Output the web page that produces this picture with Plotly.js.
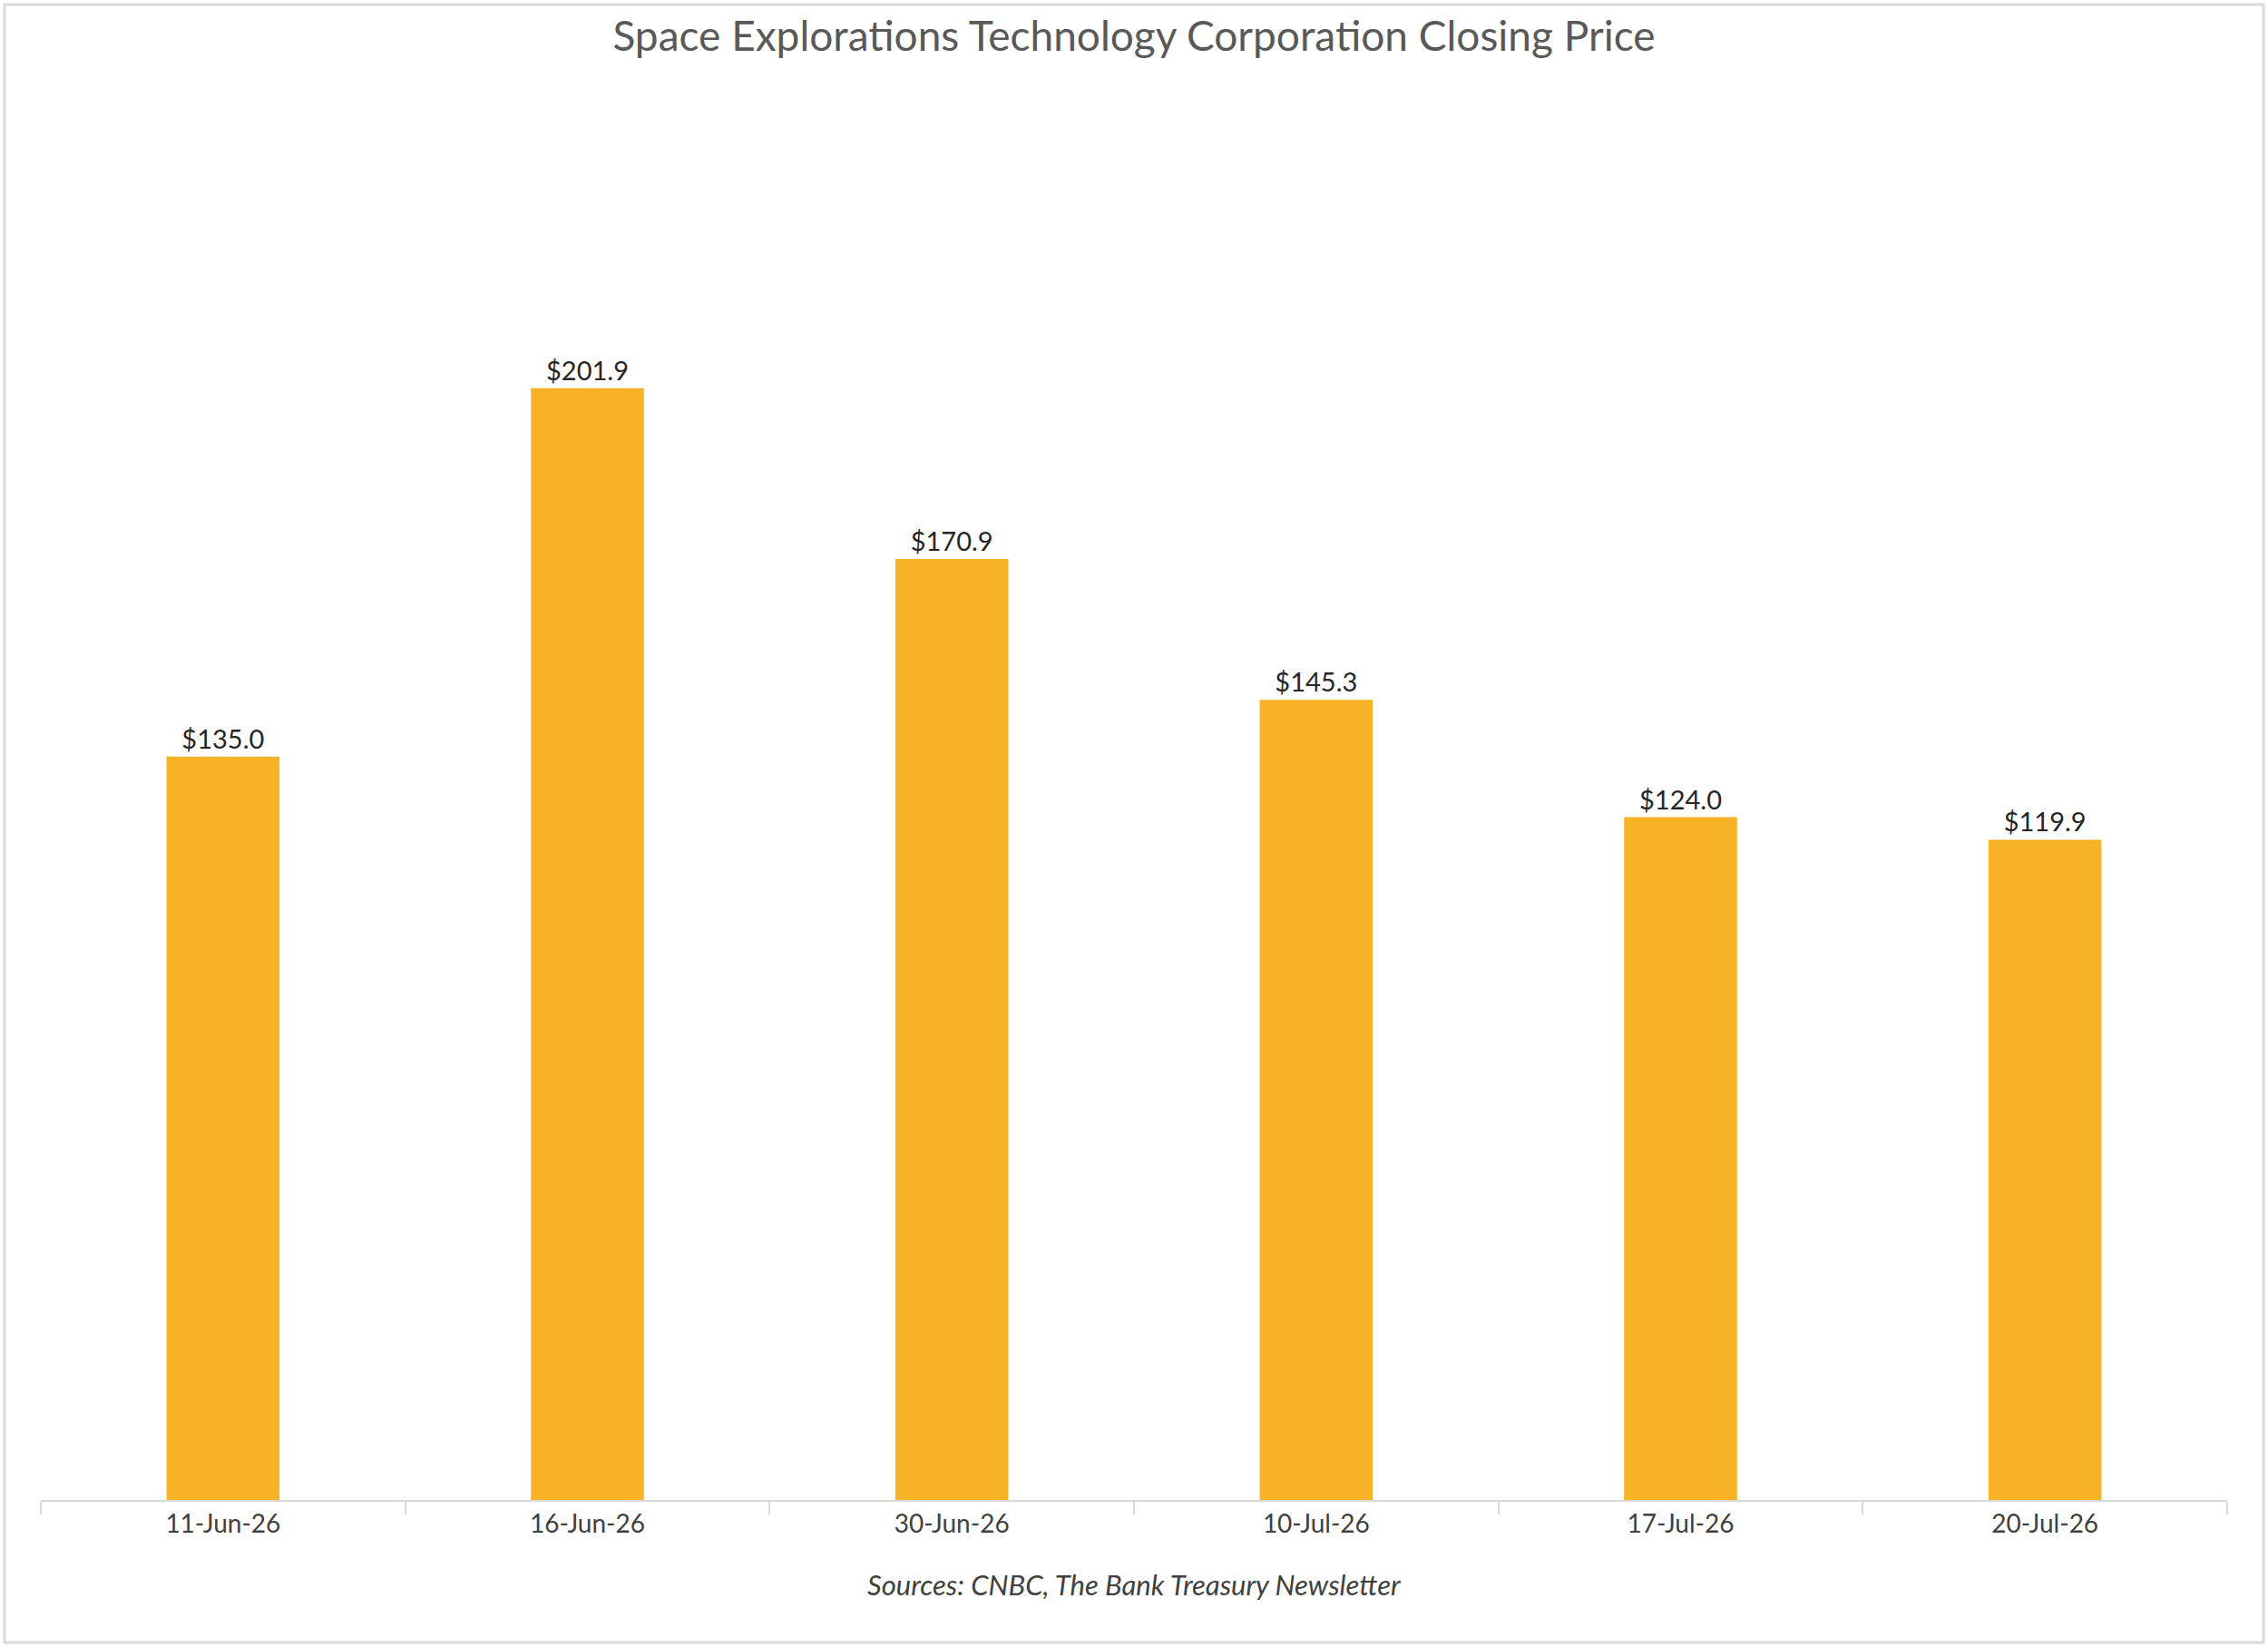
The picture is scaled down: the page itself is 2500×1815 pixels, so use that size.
<!DOCTYPE html>
<html>
<head>
<meta charset="utf-8">
<script src="https://cdn.plot.ly/plotly-3.0.1.min.js"></script>
<style>body{margin:0;background:#fff}</style>
</head>
<body>
<div id="plot" style="width:2500px;height:1815px"></div>
<script>
const dates = ['11-Jun-26', '16-Jun-26', '30-Jun-26', '10-Jul-26', '17-Jul-26', '20-Jul-26']
const closing = [135.0, 201.9, 170.9, 145.3, 124.0, 119.9]

const data = [{
  x: dates, y: closing, type: 'bar',
  marker: {color: '#F7B325'},
  texttemplate: '$%{y:.1f}', textposition: 'outside', cliponaxis: false,
  textfont: {family: 'Lato', size: 29, color: '#262626'},
  hoverinfo: 'none'
}]

const layout = {
  width: 2500, height: 1815,
  margin: {l: 45, r: 45, t: 136, b: 162},
  bargap: 0.69,
  showlegend: false,
  font: {family: 'Lato'},
  title: {text: 'Space Explorations Technology Corporation Closing Price',
    font: {family: 'Lato', size: 46, color: '#595959'}, x: 0.5, y: 0.978, yanchor: 'middle'},
  xaxis: {
    type: 'category', showline: true, linecolor: '#d9d9d9', linewidth: 2,
    ticks: 'outside', tickson: 'boundaries', ticklen: 14, tickcolor: '#d9d9d9', tickwidth: 2,
    tickfont: {family: 'Lato', size: 28, color: '#404040'}, showgrid: false
  },
  yaxis: {range: [0, 250], visible: false, showgrid: false, zeroline: false},
  annotations: [{
    text: '<i>Sources: CNBC, The Bank Treasury Newsletter</i>',
    xref: 'paper', yref: 'paper', x: 0.5, y: -0.061, yanchor: 'middle', showarrow: false,
    font: {family: 'Lato', size: 31, color: '#404040'}
  }],
  shapes: [{
    type: 'rect', xref: 'paper', yref: 'paper',
    x0: -0.0166, x1: 1.0166, y0: -0.1035, y1: 1.0864,
    line: {color: '#d9d9d9', width: 3}
  }]
}

Plotly.newPlot('plot', data, layout, {staticPlot: true})
</script>
</body>
</html>
